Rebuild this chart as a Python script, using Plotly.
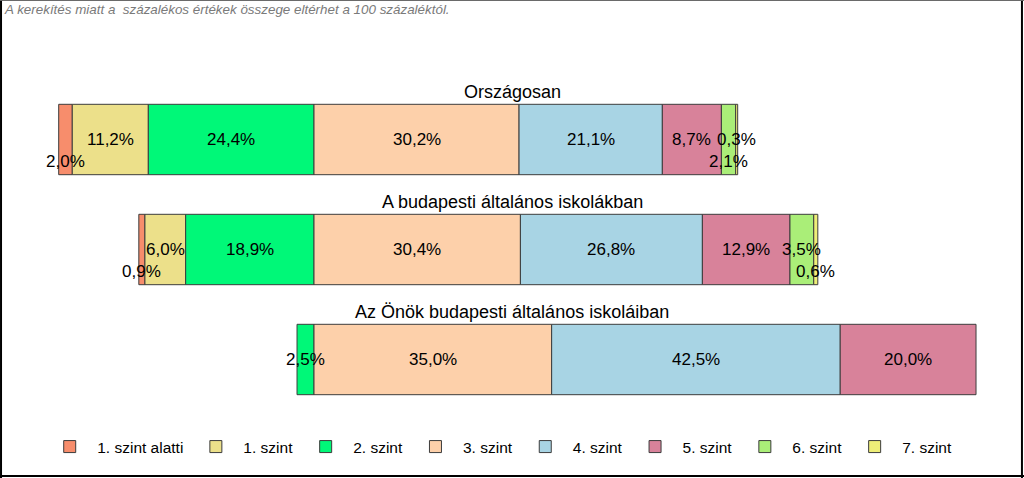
import numpy as np
import plotly.graph_objects as go

levels = ["1. szint alatti", "1. szint", "2. szint", "3. szint",
          "4. szint", "5. szint", "6. szint", "7. szint"]
groups = ["Országosan", "A budapesti általános iskolákban",
          "Az Önök budapesti általános iskoláiban"]
orszagos = [2.0, 11.2, 24.4, 30.2, 21.1, 8.7, 2.1, 0.3]
budapest = [0.9, 6.0, 18.9, 30.4, 26.8, 12.9, 3.5, 0.6]
onok = [None, None, 2.5, 35.0, 42.5, 20.0, None, None]
note = "A kerekítés miatt a  százalékos értékek összege eltérhet a 100 százaléktól."

colors = ["#F78D6C", "#ECE08A", "#00F878", "#FDD0AA",
          "#A8D4E4", "#D8829A", "#AAEE78", "#EEEE78"]
# label vertical shift (px) for labels that do not fit: (group index, level index)
label_shift = {(0, 0): -22, (0, 6): -22, (1, 0): -22, (1, 7): -22}

data = np.array([[np.nan if v is None else v for v in row]
                 for row in (orszagos, budapest, onok)])
vals = np.nan_to_num(data)
NEG = 3  # levels left of zero
starts = np.zeros_like(vals)
for g in range(vals.shape[0]):
    for i in range(vals.shape[1]):
        if i < NEG:
            starts[g, i] = -vals[g, i:NEG].sum()
        else:
            starts[g, i] = vals[g, NEG:i].sum()

ypos = list(range(len(groups)))
fig = go.Figure()
for i, lev in enumerate(levels):
    xs = [None if np.isnan(data[g, i]) else data[g, i] for g in ypos]
    fig.add_trace(go.Bar(
        y=ypos, x=xs, base=starts[:, i], orientation="h", name=lev,
        width=0.64,
        marker=dict(color=colors[i], line=dict(color="#3C3C3C", width=1)),
        hoverinfo="skip"))

ann = []
for g in ypos:
    for i in range(len(levels)):
        if np.isnan(data[g, i]):
            continue
        v = data[g, i]
        txt = f"{v:.1f}".replace(".", ",") + "%"
        ann.append(dict(x=starts[g, i] + v / 2, y=g, xref="x", yref="y",
                        text=txt, showarrow=False,
                        yshift=label_shift.get((g, i), 0),
                        font=dict(size=17, color="#000000")))
    ann.append(dict(x=0.5, y=g, xref="paper", yref="y", text=groups[g],
                    showarrow=False, yshift=48,
                    font=dict(size=18, color="#000000")))
ann.append(dict(x=0.002, y=1.0, xref="paper", yref="paper", text=f"<i>{note}</i>",
                xanchor="left", yanchor="top", showarrow=False,
                font=dict(size=13.4, color="#7A7A7A")))
fig.update_layout(annotations=ann)

px_per = 6.79
zero_px = 314
fig.update_xaxes(range=[-zero_px / px_per, (1024 - zero_px) / px_per],
                 visible=False, showgrid=False, zeroline=False)
fig.update_yaxes(range=[(478 - 139.5) / 110, -139.5 / 110],
                 visible=False, showgrid=False, zeroline=False)

fig.update_layout(
    width=1024, height=478, barmode="overlay",
    margin=dict(l=0, r=0, t=0, b=0),
    paper_bgcolor="white", plot_bgcolor="white",
    font=dict(family="Liberation Sans, Arial, sans-serif"),
    showlegend=True,
    legend=dict(orientation="h", x=0.488, xanchor="center", y=1 - 447 / 478,
                yanchor="middle", itemwidth=45,
                font=dict(size=15.5, color="#000000"), bgcolor="rgba(0,0,0,0)",
                traceorder="normal"),
    shapes=[
        dict(type="line", xref="paper", yref="paper", x0=0.001, x1=0.001, y0=0, y1=1,
             line=dict(color="#000000", width=2)),
        dict(type="line", xref="paper", yref="paper", x0=0.998, x1=0.998, y0=0, y1=1,
             line=dict(color="#000000", width=2)),
        dict(type="line", xref="paper", yref="paper", x0=0, x1=1, y0=0.004, y1=0.004,
             line=dict(color="#000000", width=2)),
        dict(type="line", xref="paper", yref="paper", x0=0, x1=1, y0=0.999, y1=0.999,
             line=dict(color="#666666", width=1)),
    ],
)
fig.write_html("out.html")
